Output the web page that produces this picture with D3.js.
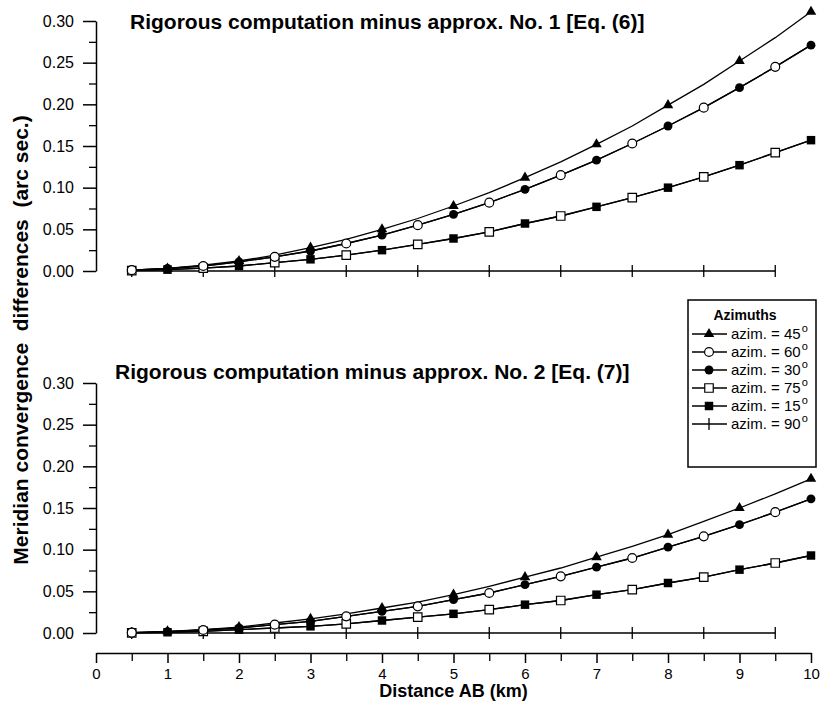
<!DOCTYPE html>
<html>
<head>
<meta charset="utf-8">
<script src="https://cdn.jsdelivr.net/npm/d3@7"></script>
<style>
  html, body { margin: 0; padding: 0; background: #fff; }
  svg { display: block; }
  text { font-family: "Liberation Sans", Arial, sans-serif; fill: #000; }
</style>
</head>
<body>
<svg id="chart" width="823" height="708"></svg>
<script>
// ---------------- DATA ----------------
const distances = [0.5,1,1.5,2,2.5,3,3.5,4,4.5,5,5.5,6,6.5,7,7.5,8,8.5,9,9.5,10];
const xTicks = [0,1,2,3,4,5,6,7,8,9,10];
const yTicks = [0,0.05,0.10,0.15,0.20,0.25,0.30];

// Panel 1: rigorous minus approx. No. 1 [Eq. (6)]
const top45 = [0.001,0.003,0.007,0.012,0.019,0.028,0.038,0.050,0.063,0.078,0.094,0.112,0.131,0.152,0.174,0.199,0.224,0.252,0.280,0.311];
const top60 = [0.001,0.003,0.006,0.011,0.017,0.024,0.033,0.043,0.055,0.068,0.082,0.098,0.115,0.133,0.153,0.174,0.196,0.220,0.245,0.271];
const top30 = [0.001,0.003,0.006,0.011,0.017,0.024,0.033,0.043,0.055,0.068,0.082,0.098,0.115,0.133,0.153,0.174,0.196,0.220,0.245,0.271];
const top75 = [0.0004,0.0016,0.0035,0.006,0.010,0.014,0.019,0.025,0.032,0.039,0.047,0.057,0.066,0.077,0.088,0.100,0.113,0.127,0.142,0.157];
const top15 = [0.0004,0.0016,0.0035,0.006,0.010,0.014,0.019,0.025,0.032,0.039,0.047,0.057,0.066,0.077,0.088,0.100,0.113,0.127,0.142,0.157];
const top90 = [0,0,0,0,0,0,0,0,0,0,0,0,0,0,0,0,0,0,0];

// Panel 2: rigorous minus approx. No. 2 [Eq. (7)]
const bot45 = [0.0005,0.002,0.004,0.007,0.012,0.017,0.023,0.030,0.037,0.046,0.056,0.067,0.078,0.091,0.104,0.118,0.134,0.150,0.167,0.185];
const bot60 = [0.0004,0.0016,0.0036,0.006,0.010,0.014,0.020,0.026,0.032,0.040,0.048,0.058,0.068,0.079,0.090,0.103,0.116,0.130,0.145,0.161];
const bot30 = [0.0004,0.0016,0.0036,0.006,0.010,0.014,0.020,0.026,0.032,0.040,0.048,0.058,0.068,0.079,0.090,0.103,0.116,0.130,0.145,0.161];
const bot75 = [0.0002,0.0009,0.002,0.004,0.006,0.008,0.011,0.015,0.019,0.023,0.028,0.034,0.039,0.046,0.052,0.060,0.067,0.076,0.084,0.093];
const bot15 = [0.0002,0.0009,0.002,0.004,0.006,0.008,0.011,0.015,0.019,0.023,0.028,0.034,0.039,0.046,0.052,0.060,0.067,0.076,0.084,0.093];
const bot90 = [0,0,0,0,0,0,0,0,0,0,0,0,0,0,0,0,0,0,0];

const azimuths = ["45","60","30","75","15","90"];
const markers  = ["triangle","openCircle","circle","openSquare","square","plus"];
// which points carry a marker: "int" = whole km, "half" = x.5 km
const markerAt = ["int","half","int","half","int","half"];

const panelTitles = ["Rigorous computation minus approx. No. 1 [Eq. (6)]",
                     "Rigorous computation minus approx. No. 2 [Eq. (7)]"];
const panelData = [
  [top45, top60, top30, top75, top15, top90],
  [bot45, bot60, bot30, bot75, bot15, bot90]
];

// ---------------- LAYOUT ----------------
const FONT = '"Liberation Sans", Arial, sans-serif';
const svg = d3.select("#chart");
const x = d3.scaleLinear().domain([0,10]).range([96, 811]);
const panels = [
  {y: d3.scaleLinear().domain([0,0.30]).range([271, 21]), titleX: 130, titleY: 29},
  {y: d3.scaleLinear().domain([0,0.30]).range([633, 383]), titleX: 115, titleY: 379}
];
const minorY = d3.range(0.025, 0.30, 0.05);

function markerPath(type) {
  if (type === "triangle") return d3.symbol(d3.symbolTriangle, 48)();
  if (type === "circle" || type === "openCircle") return d3.symbol(d3.symbolCircle, 62)();
  if (type === "square" || type === "openSquare") return d3.symbol(d3.symbolSquare, 72)();
  return "M0,-6V6";
}
function drawMarker(g, type, cx, cy) {
  const p = g.append("path").attr("d", markerPath(type))
    .attr("transform", `translate(${cx},${cy})`);
  if (type === "openCircle" || type === "openSquare") {
    p.attr("fill", "#fff").attr("stroke", "#000").attr("stroke-width", 1.2);
  } else if (type === "plus") {
    p.attr("fill", "none").attr("stroke", "#000").attr("stroke-width", 1.3);
  } else {
    p.attr("fill", "#000").attr("stroke", "none");
  }
}

panels.forEach((pn, pi) => {
  const g = svg.append("g");
  const y = pn.y;

  // y axis major
  const ax = g.append("g").attr("transform", `translate(${x(0)},0)`)
    .call(d3.axisLeft(y).tickValues(yTicks).tickSize(13).tickSizeOuter(0)
      .tickPadding(9).tickFormat(d3.format(".2f")));
  ax.select(".domain").attr("stroke-width", 1.5);
  ax.selectAll(".tick line").attr("stroke-width", 1.5);
  ax.selectAll(".tick text").style("font-size", "16px").style("font-family", FONT);
  // y axis minor
  const axm = g.append("g").attr("transform", `translate(${x(0)},0)`)
    .call(d3.axisLeft(y).tickValues(minorY).tickSize(7).tickSizeOuter(0).tickFormat(""));
  axm.select(".domain").remove();
  axm.selectAll(".tick line").attr("stroke-width", 1.3);

  // title
  g.append("text").attr("x", pn.titleX).attr("y", pn.titleY)
    .style("font-size", "21px").style("font-weight", "bold")
    .text(panelTitles[pi]);

  const line = d3.line().x(d => x(d[0])).y(d => y(d[1]));
  const data = panelData[pi];

  // lines
  data.forEach((vals) => {
    const pts = vals.map((v, i) => [distances[i], v]);
    g.append("path").datum(pts).attr("d", line)
      .attr("fill", "none").attr("stroke", "#000").attr("stroke-width", 1.3);
  });
  // markers
  const order = [5, 3, 4, 1, 2, 0];
  order.forEach(si => {
    const vals = data[si];
    vals.forEach((v, i) => {
      const d = distances[i];
      const isInt = Number.isInteger(d);
      if ((markerAt[si] === "int") === isInt) drawMarker(g, markers[si], x(d), y(v));
    });
  });
});

// x axis
const xa = svg.append("g").attr("transform", "translate(0,653)")
  .call(d3.axisBottom(x).tickValues(xTicks).tickSize(10).tickSizeOuter(0).tickPadding(5)
    .tickFormat(d3.format("d")));
xa.select(".domain").attr("stroke-width", 1.5);
xa.selectAll(".tick line").attr("stroke-width", 1.5);
xa.selectAll(".tick text").style("font-size", "15px").style("font-family", FONT);
const xam = svg.append("g").attr("transform", "translate(0,653)")
  .call(d3.axisBottom(x).tickValues(d3.range(0.5, 10, 1)).tickSize(8).tickSizeOuter(0).tickFormat(""));
xam.select(".domain").remove();
xam.selectAll(".tick line").attr("stroke-width", 1.3);

svg.append("text").attr("x", x(5)).attr("y", 697).attr("text-anchor", "middle")
  .style("font-size", "18px").style("font-weight", "bold").text("Distance AB (km)");

svg.append("text").attr("transform", "translate(28,340) rotate(-90)")
  .attr("text-anchor", "middle").style("font-size", "21px").style("font-weight", "bold")
  .attr("xml:space", "preserve")
  .text("Meridian convergence  differences  (arc sec.)");

// legend
const lg = svg.append("g");
lg.append("rect").attr("x", 688).attr("y", 300).attr("width", 128).attr("height", 167)
  .attr("fill", "#fff").attr("stroke", "#000").attr("stroke-width", 1.5);
lg.append("text").attr("x", 745).attr("y", 320).attr("text-anchor", "middle")
  .style("font-size", "14px").style("font-weight", "bold").text("Azimuths");
azimuths.forEach((a, i) => {
  const cy = 334 + i * 18;
  lg.append("line").attr("x1", 692).attr("x2", 727).attr("y1", cy).attr("y2", cy)
    .attr("stroke", "#000").attr("stroke-width", 1.3);
  drawMarker(lg, markers[i], 709, cy);
  const t = lg.append("text").attr("x", 731).attr("y", cy + 5).style("font-size", "15px");
  t.append("tspan").text(`azim. = ${a}`);
  t.append("tspan").attr("dy", -7).attr("dx", 1).style("font-size", "11px").text("o");
});
</script>
</body>
</html>
